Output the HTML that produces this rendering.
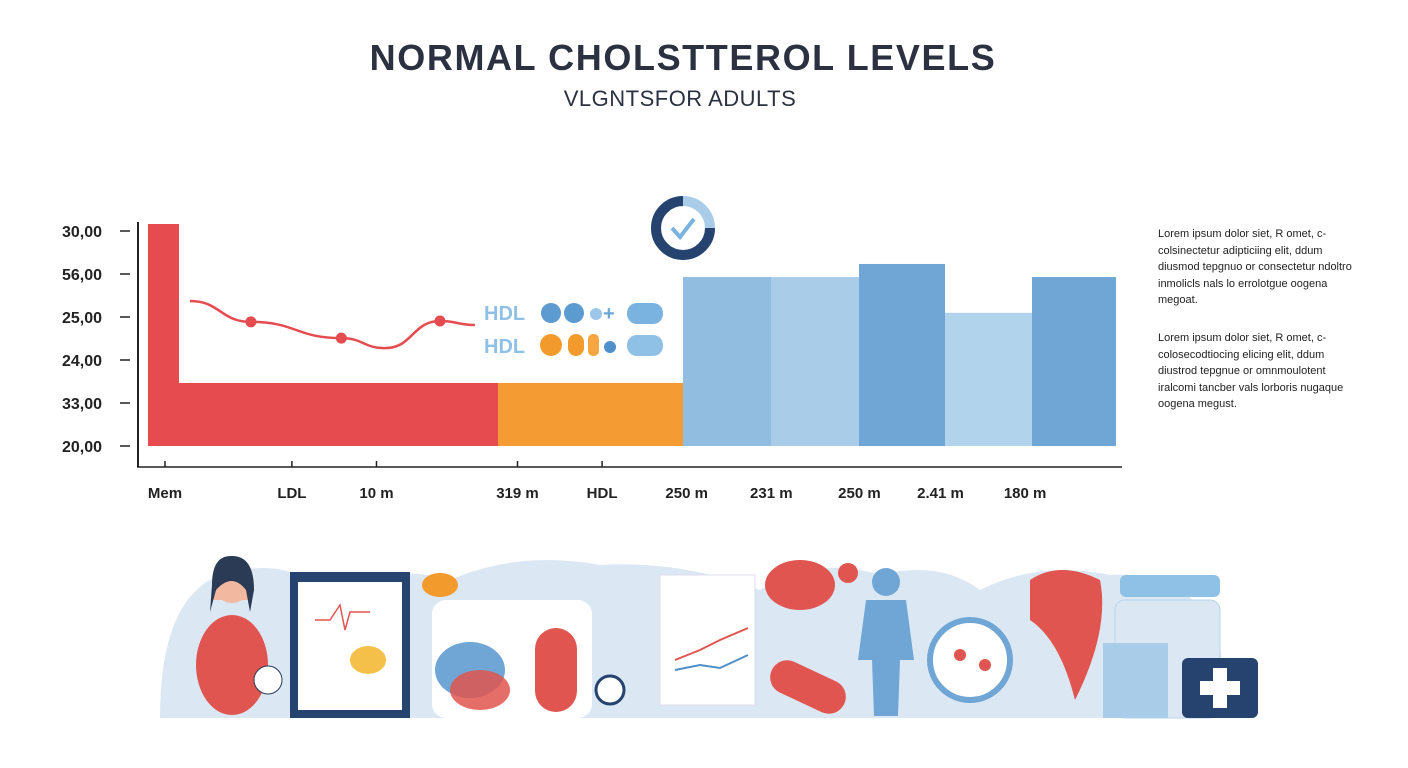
<!DOCTYPE html>
<html><head><meta charset="utf-8"><style>
body{margin:0;width:1408px;height:768px;background:#fff;overflow:hidden;font-family:"Liberation Sans",sans-serif;}
svg{position:absolute;left:0;top:0}
.note{position:absolute;left:1158px;width:205px;font-size:11px;line-height:16.5px;color:#222;}
</style></head><body>
<svg width="1408" height="768">
<text x="683" y="70" text-anchor="middle" font-size="36" font-weight="bold" fill="#2b3140" letter-spacing="1.6">NORMAL CHOLSTTEROL LEVELS</text>
<text x="680" y="106" text-anchor="middle" font-size="22" fill="#2b3140" letter-spacing="0.5">VLGNTSFOR ADULTS</text>
<g id="bars"></g>
<g id="axes"></g>
<g id="line"></g>
<g>
<circle cx="683" cy="228" r="27" fill="none" stroke="#a9cde9" stroke-width="10"/>
<path d="M683 201 A27 27 0 1 0 710 228" fill="none" stroke="#26426e" stroke-width="10"/>
<path d="M672 228 L680 237 L694 219" fill="none" stroke="#7ab3e0" stroke-width="4"/>
</g>
<g font-weight="bold" font-size="20" fill="#8fc0e6">
<text x="484" y="320">HDL</text><text x="484" y="353">HDL</text>
<circle cx="551" cy="313" r="10" fill="#5b9bd0"/><circle cx="574" cy="313" r="10" fill="#5b9bd0"/><circle cx="596" cy="314" r="6" fill="#9cc7ea"/><text x="603" y="320" fill="#6aa8dc">+</text><rect x="627" y="303" width="36" height="21" rx="10" fill="#7ab3e0"/>
<circle cx="551" cy="345" r="11" fill="#f39a2c"/><rect x="568" y="334" width="16" height="22" rx="8" fill="#f39a2c"/><rect x="588" y="334" width="11" height="22" rx="5" fill="#f5a640"/><circle cx="610" cy="347" r="6" fill="#4f8fca"/><rect x="627" y="335" width="36" height="21" rx="10" fill="#8fc0e6"/>
</g>
<g id="illus">
<path d="M160 718 Q160 580 240 570 Q300 560 330 600 Q380 560 450 580 Q520 550 600 565 Q680 560 760 590 Q820 555 880 575 Q940 560 980 590 Q1040 560 1110 575 Q1190 570 1220 640 L1225 718 Z" fill="#dbe8f4"/>
<ellipse cx="232" cy="665" rx="36" ry="50" fill="#e0554f"/><path d="M212 600 Q215 580 232 578 Q250 580 252 600 Z" fill="#f2b8a0"/><circle cx="232" cy="585" r="18" fill="#f2b8a0"/><path d="M212 585 Q212 555 232 556 Q254 556 254 590 L250 612 L246 590 Q232 572 216 590 L210 612 Z" fill="#2b3a55"/>
<circle cx="268" cy="680" r="14" fill="#fff" stroke="#2b3a55"/>
<rect x="290" y="572" width="120" height="146" fill="#26426e"/><rect x="298" y="582" width="104" height="128" fill="#fff"/>
<polyline points="315,620 330,620 340,605 345,630 350,612 370,612" fill="none" stroke="#e0554f" stroke-width="1.5"/>
<ellipse cx="368" cy="660" rx="18" ry="14" fill="#f5c04a"/>
<rect x="432" y="600" width="160" height="118" rx="14" fill="#fff"/>
<ellipse cx="470" cy="670" rx="35" ry="28" fill="#6fa6d6"/><ellipse cx="480" cy="690" rx="30" ry="20" fill="#e0554f" opacity=".85"/>
<rect x="535" y="628" width="42" height="84" rx="21" fill="#e0554f"/>
<ellipse cx="440" cy="585" rx="18" ry="12" fill="#f39a2c"/>
<circle cx="610" cy="690" r="14" fill="#fff" stroke="#26426e" stroke-width="3"/>
<rect x="660" y="575" width="95" height="130" fill="#fff" stroke="#dde"/>
<polyline points="675,660 700,650 720,640 748,628" fill="none" stroke="#e0554f" stroke-width="2"/><polyline points="675,670 700,665 720,668 748,655" fill="none" stroke="#4f8fca" stroke-width="2"/>
<ellipse cx="800" cy="585" rx="35" ry="25" fill="#e0554f"/><circle cx="848" cy="573" r="10" fill="#e0554f"/>
<rect x="768" y="670" width="80" height="34" rx="17" fill="#e0554f" transform="rotate(25 808 687)"/>
<circle cx="886" cy="582" r="14" fill="#6fa6d6"/><path d="M866 600 L906 600 L914 660 L900 660 L898 716 L874 716 L872 660 L858 660 Z" fill="#6fa6d6"/>
<circle cx="970" cy="660" r="40" fill="#fff" stroke="#6fa6d6" stroke-width="6"/><circle cx="960" cy="655" r="6" fill="#e0554f"/><circle cx="985" cy="665" r="6" fill="#e0554f"/>
<path d="M1030 580 Q1060 560 1100 580 Q1110 630 1075 700 Q1060 640 1030 620 Z" fill="#e0554f"/>
<rect x="1120" y="575" width="100" height="22" rx="6" fill="#8fc0e6"/><rect x="1115" y="600" width="105" height="118" rx="10" fill="#dbe8f4" stroke="#b8d4ec"/>
<rect x="1103" y="643" width="65" height="75" fill="#a9cde9"/>
<rect x="1182" y="658" width="76" height="60" rx="6" fill="#26426e"/><rect x="1213" y="668" width="14" height="40" fill="#fff"/><rect x="1200" y="681" width="40" height="14" fill="#fff"/>
</g>
</svg>
<div class="note" style="top:226px">Lorem ipsum dolor siet, R omet, c-colsinectetur adipticiing elit, ddum diusmod tepgnuo or consectetur ndoltro inmolicls nals lo errolotgue oogena megoat.</div>
<div class="note" style="top:330px">Lorem ipsum dolor siet, R omet, c-colosecodtiocing elicing elit, ddum diustrod tepgnue or omnmoulotent iralcomi tancber vals lorboris nugaque oogena megust.</div>
<script>
const ns="http://www.w3.org/2000/svg";
const barValues=[28.4,28.4,76.1,76.1,82,60,76.1];
const barColors=["#e54b4f","#f59b34","#90bde0","#a9cde9","#6fa6d6","#b1d3ec","#6fa6d6"];
const barWidths=[350,185,88,88,86,87,84];
const tallValue=100;
const yTickLabels=["30,00","56,00","25,00","24,00","33,00","20,00"];
const xLabels=["Mem","LDL","10 m","319 m","HDL","250 m","231 m","250 m","2.41 m","180 m"];
const xLabelPos=[0,1.8,3,5,6.2,7.4,8.6,9.85,11,12.2];
const lineX=[-0.03,0.86,2.18,2.82,3.62,4.13];
const lineY=[65.3,55.9,48.6,44.1,56.3,54.5];
const lineMarkers=[1,2,4];
const y=v=>446-v*2.22;
const xl=i=>165+i*70.5;
const lx=i=>192+i*68.5;
function mk(t,a,p){const e=document.createElementNS(ns,t);for(const k in a)e.setAttribute(k,a[k]);p.appendChild(e);return e;}
const bars=document.getElementById("bars");
let t=mk("rect",{x:148,y:y(tallValue),width:31,height:446-y(tallValue),fill:"#e54b4f"},bars);


let cx=148;
barValues.forEach((v,i)=>{const r=mk("rect",{x:cx,y:y(v),width:barWidths[i],height:446-y(v),fill:barColors[i]},bars);


cx+=barWidths[i];});
const ax=document.getElementById("axes");
mk("line",{x1:138,y1:222,x2:138,y2:467,stroke:"#222","stroke-width":2},ax);
mk("line",{x1:137,y1:467,x2:1122,y2:467,stroke:"#222","stroke-width":1.5},ax);
yTickLabels.forEach((s,i)=>{const yy=231+i*43;
mk("line",{x1:120,y1:yy,x2:130,y2:yy,stroke:"#222","stroke-width":1.5},ax);
const tx=mk("text",{x:102,y:yy+6,"text-anchor":"end","font-size":16,"font-weight":"bold",fill:"#222"},ax);tx.textContent=s;

});
xLabels.forEach((s,i)=>{const xx=xl(xLabelPos[i]);
if(i<5)mk("line",{x1:xx,y1:461,x2:xx,y2:467,stroke:"#222","stroke-width":1.5},ax);
const tx=mk("text",{x:xx,y:498,"text-anchor":"middle","font-size":15,"font-weight":"bold",fill:"#222"},ax);tx.textContent=s;

});
const lg=document.getElementById("line");
let d="M"+lx(lineX[0])+" "+y(lineY[0]);
for(let i=1;i<lineX.length;i++){const x0=lx(lineX[i-1]),x1=lx(lineX[i]),m=(x0+x1)/2;d+=` C${m} ${y(lineY[i-1])} ${m} ${y(lineY[i])} ${x1} ${y(lineY[i])}`;}
const p=mk("path",{d:d,fill:"none",stroke:"#e54b4f","stroke-width":2.5},lg);


lineMarkers.forEach(i=>{const c=mk("circle",{cx:lx(lineX[i]),cy:y(lineY[i]),r:5.5,fill:"#e54b4f"},lg);

});
</script>
</body></html>
